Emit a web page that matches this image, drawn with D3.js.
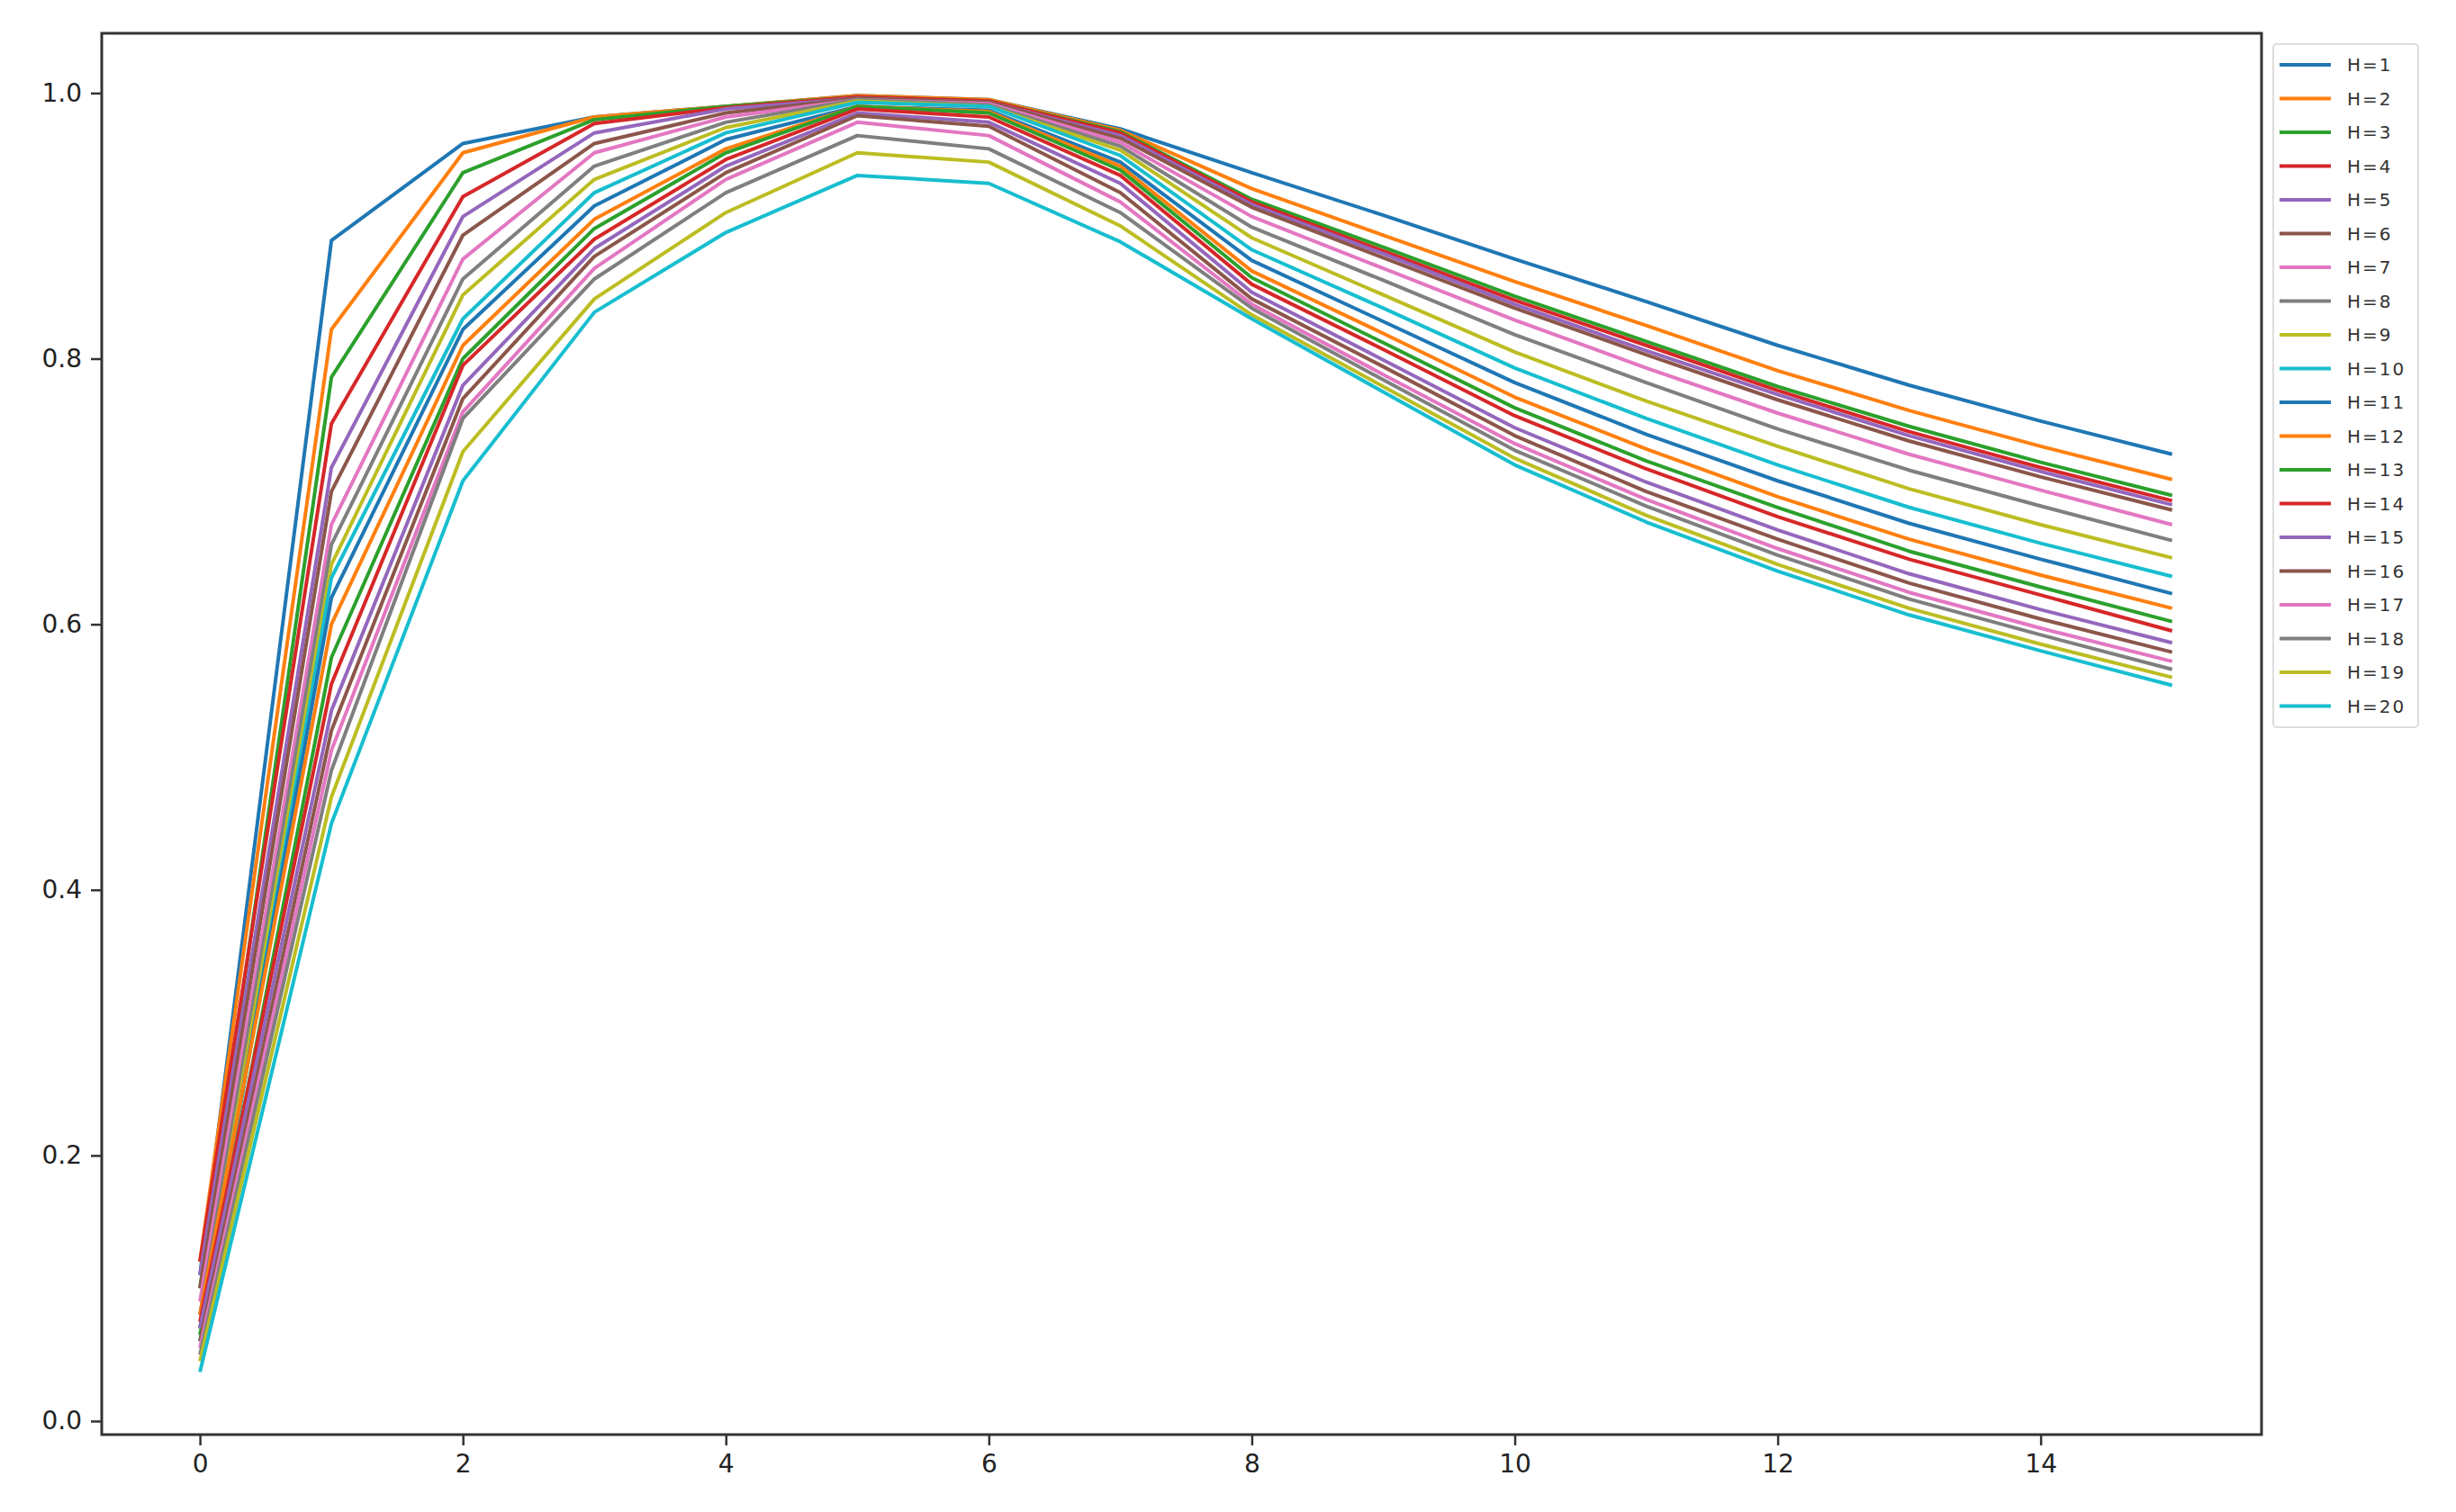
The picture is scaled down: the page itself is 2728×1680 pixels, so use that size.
<!DOCTYPE html>
<html><head><meta charset="utf-8">
<script src="https://cdn.jsdelivr.net/npm/d3@7"></script>
<style>body{margin:0;background:#fff}</style></head>
<body><svg id="c" width="2728" height="1680"></svg>
<script>
const xs = [0,1,2,3,4,5,6,7,8,9,10,11,12,13,14,15];
const names = d3.range(1,21).map(i=>"H="+i);
const colors = ["#1f77b4","#ff7f0e","#2ca02c","#d62728","#9467bd","#8c564b","#e377c2","#7f7f7f","#bcbd22","#17becf"];
const xTicks = [0,2,4,6,8,10,12,14];
const yTicks = [0.0,0.2,0.4,0.6,0.8,1.0];
const H1  = [.11,.889,.962,.982,.990,.998,.995,.973,.940,.908,.875,.843,.810,.780,.753,.728];
const H2  = [.12,.822,.955,.982,.990,.998,.995,.972,.928,.893,.858,.825,.791,.761,.734,.709];
const H3  = [.10,.786,.940,.980,.990,.997,.994,.971,.920,.884,.847,.813,.779,.749,.722,.697];
const H4  = [.12,.751,.922,.977,.989,.997,.994,.970,.918,.881,.844,.810,.776,.745,.718,.693];
const H5  = [.11,.718,.907,.970,.988,.996,.993,.968,.916,.879,.841,.806,.773,.742,.715,.690];
const H6  = [.10,.700,.893,.962,.985,.996,.993,.966,.914,.876,.838,.803,.769,.738,.711,.686];
const H7  = [.09,.675,.875,.955,.982,.995,.992,.963,.907,.868,.829,.793,.759,.728,.701,.675];
const H8  = [.08,.660,.860,.945,.978,.995,.991,.960,.899,.859,.818,.782,.747,.716,.689,.663];
const H9  = [.07,.645,.848,.935,.974,.994,.990,.957,.891,.848,.805,.768,.734,.702,.675,.650];
const H10 = [.06,.635,.830,.925,.970,.993,.990,.953,.882,.838,.793,.755,.720,.688,.661,.636];
const H11 = [.07,.620,.822,.915,.965,.990,.987,.948,.874,.828,.782,.743,.708,.676,.649,.623];
const H12 = [.08,.600,.810,.905,.958,.990,.986,.945,.866,.819,.771,.732,.696,.664,.637,.612];
const H13 = [.065,.575,.800,.898,.955,.990,.985,.942,.861,.812,.763,.723,.688,.655,.628,.602];
const H14 = [.075,.555,.795,.890,.950,.988,.982,.938,.856,.807,.757,.717,.681,.649,.622,.595];
const H15 = [.07,.535,.780,.883,.945,.985,.978,.932,.850,.799,.748,.707,.671,.638,.611,.586];
const H16 = [.06,.520,.770,.877,.940,.983,.975,.925,.845,.794,.742,.700,.664,.631,.604,.579];
const H17 = [.055,.505,.760,.868,.935,.978,.968,.918,.841,.788,.736,.694,.657,.624,.597,.572];
const H18 = [.05,.490,.755,.860,.925,.968,.958,.910,.838,.784,.731,.689,.652,.619,.592,.566];
const H19 = [.045,.470,.730,.845,.910,.955,.948,.900,.833,.779,.725,.682,.645,.612,.585,.560];
const H20 = [.037,.450,.708,.835,.895,.938,.932,.888,.830,.775,.720,.677,.640,.607,.580,.554];
const series = [H1,H2,H3,H4,H5,H6,H7,H8,H9,H10,H11,H12,H13,H14,H15,H16,H17,H18,H19,H20];

const L=113,R=2512,T=37,B=1594;
const x = d3.scaleLinear().domain([-0.747,15.68]).range([L,R]);
const y = d3.scaleLinear().domain([-0.0102,1.045]).range([B,T]);
const svg = d3.select("#c");
const font = "DejaVu Sans, sans-serif";

const line = d3.line().x((d,i)=>x(xs[i])).y(d=>y(d));
svg.append("g").selectAll("path").data(series).join("path")
  .attr("d",line).attr("fill","none")
  .attr("stroke",(d,i)=>colors[i%10]).attr("stroke-width",4).attr("stroke-linejoin","round");

const gx = svg.append("g").attr("transform",`translate(0,${B})`)
  .call(d3.axisBottom(x).tickValues(xTicks).tickFormat(d3.format("d")).tickSize(12).tickPadding(10));
const gy = svg.append("g").attr("transform",`translate(${L},0)`)
  .call(d3.axisLeft(y).tickValues(yTicks).tickFormat(d3.format(".1f")).tickSize(12).tickPadding(10));
[gx,gy].forEach(g=>{g.select(".domain").remove();
  g.selectAll("line").attr("stroke","#333").attr("stroke-width",2.5);
  g.selectAll("text").attr("font-family",font).attr("font-size",28).attr("fill","#222");});
svg.append("rect").attr("x",L).attr("y",T).attr("width",R-L).attr("height",B-T)
  .attr("fill","none").attr("stroke","#333").attr("stroke-width",3);

const lg = svg.append("g");
lg.append("rect").attr("x",2525).attr("y",49).attr("width",161).attr("height",759).attr("rx",4)
  .attr("fill","#fff").attr("stroke","#ddd").attr("stroke-width",2);
const ent = lg.selectAll("g.e").data(names).join("g").attr("class","e")
  .attr("transform",(d,i)=>`translate(0,${72+i*37.5})`);
ent.append("line").attr("x1",2532).attr("x2",2589).attr("stroke",(d,i)=>colors[i%10]).attr("stroke-width",4);
ent.append("text").attr("x",2607).attr("y",7).text(d=>d).attr("font-family",font)
  .attr("font-size",20).attr("letter-spacing",2).attr("fill","#333");
</script></body></html>
